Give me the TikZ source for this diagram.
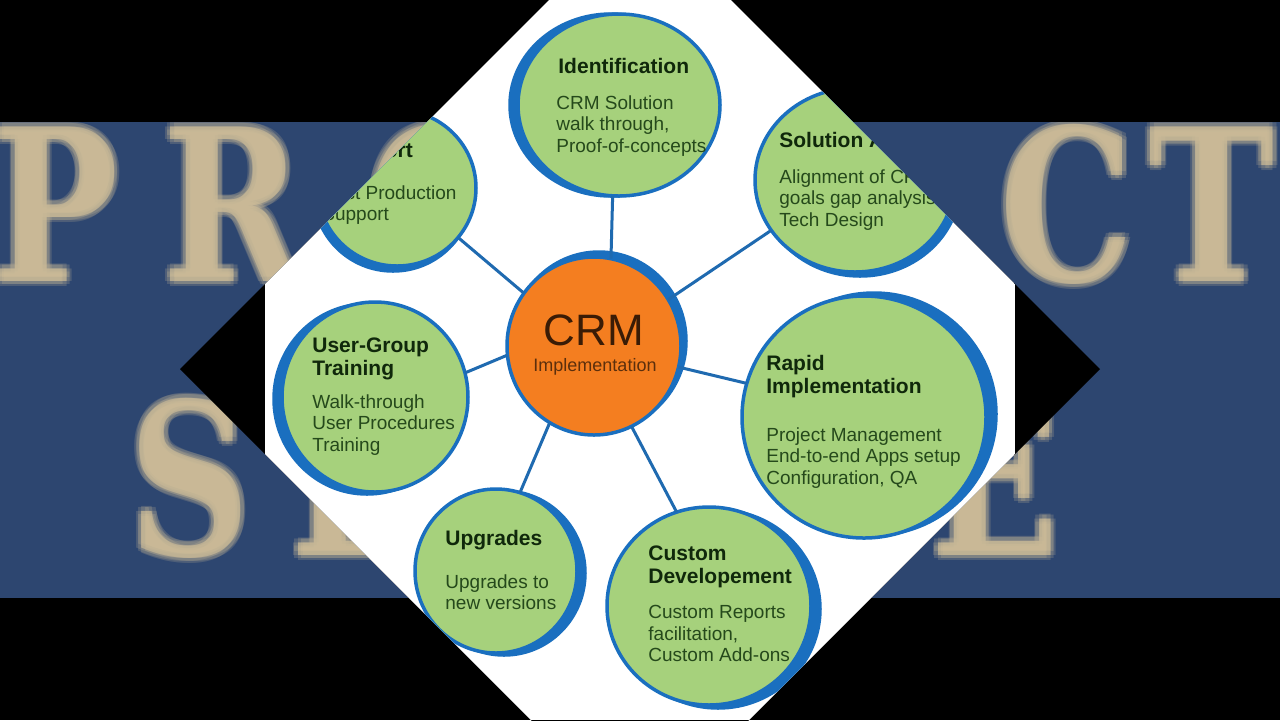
\documentclass[tikz,border=0pt]{standalone}
\usepackage{fontspec}
\setmainfont{Liberation Sans}
\newfontfamily\bgfont{DejaVu Serif}[FakeStretch=0.8]
\usetikzlibrary{shapes.geometric}
\definecolor{bandblue}{HTML}{2D4670}
\definecolor{beige}{HTML}{D5C29A}
\definecolor{leaf}{HTML}{A6D17C}
\definecolor{ring}{HTML}{1A6FBF}
\definecolor{linkblue}{HTML}{1F6AB0}
\definecolor{crmorange}{HTML}{F47E20}
\definecolor{headtxt}{HTML}{10280B}
\definecolor{bodytxt}{HTML}{25491B}
\definecolor{crmtxt}{HTML}{3A1C06}
\definecolor{imptxt}{HTML}{5C2F0C}
\newcommand\blurletter[4]{%
  \foreach \dx/\dy [count=\k] in {-5/0,5/0,0/-5,0/5,-3.5/-3.5,3.5/3.5,-3.5/3.5,3.5/-3.5}{
    \node[bgl, opacity=0.2] (#1-\k) at (#2+\dx, #3+\dy) {#4};
  }
  \node[bgl, opacity=0.6] (#1) at (#2,#3) {#4};
}
\begin{document}
\begin{tikzpicture}[x=0.5pt,y=-0.5pt,
  bub/.style={ellipse, draw=ring, line width=1.75pt, fill=leaf, inner sep=0pt, outer sep=0pt},
  hub/.style={bub, fill=crmorange},
  head/.style={anchor=north west, inner sep=0pt, align=left, text=headtxt, font=\fontsize{10.5}{11.5}\selectfont\bfseries},
  body/.style={anchor=north west, inner sep=0pt, align=left, text=bodytxt, font=\fontsize{9.5}{10.75}\selectfont},
  link/.style={draw=linkblue, line width=1.5pt},
  bgl/.style={inner sep=0pt, text=beige, font=\bgfont\fontsize{106}{110}\selectfont\bfseries}
]
\useasboundingbox (0,0) rectangle (1280,720);
\fill[black] (0,0) rectangle (1280,720);
\fill[bandblue] (0,122) rectangle (1280,598);
\begin{scope}
  \clip (0,122) rectangle (1280,598);
  \blurletter{lP}{55}{204}{P}
  \blurletter{lR}{233}{204}{R}
  \blurletter{lO}{440}{204}{O}
  \blurletter{lC}{1067}{204}{C}
  \blurletter{lT}{1212}{204}{T}
  \blurletter{lS}{190}{478}{S}
  \blurletter{lE}{355}{478}{E}
  \blurletter{lF}{995}{478}{E}
\end{scope}
% diamond
\fill[black] (640,-91) -- (1100,369) -- (640,829) -- (180,369) -- cycle;
\begin{scope}
  \clip (640,-91) -- (1100,369) -- (640,829) -- (180,369) -- cycle;
  \fill[white] (265,0) rectangle (1015,720);
  % shadows
  \fill[ring] (611,105) ellipse [x radius=102.75, y radius=92.75];
  \fill[ring] (860,184) ellipse [x radius=101.75, y radius=93.75];
  \fill[ring] (393,193) ellipse [x radius=80.75, y radius=79.75];
  \fill[ring] (367,399) ellipse [x radius=94.75, y radius=96.75];
  \fill[ring] (874,414) ellipse [x radius=123.75, y radius=122.75];
  \fill[ring] (504,573) ellipse [x radius=82.75, y radius=83.75];
  \fill[ring] (718,609) ellipse [x radius=103.75, y radius=100.75];
  \fill[ring] (599,341) ellipse [x radius=88.75, y radius=90.75];
  % bubbles
  \node[bub, minimum width=101pt, minimum height=91pt] (ident) at (619,105) {};
  \node[bub, minimum width=100pt, minimum height=92pt] (sol) at (855,180) {};
  \node[bub, minimum width=79pt, minimum height=78pt] (sup) at (397,188) {};
  \node[bub, minimum width=93pt, minimum height=95pt] (ug) at (375,397) {};
  \node[bub, minimum width=122pt, minimum height=121pt] (rap) at (864,417) {};
  \node[bub, minimum width=81pt, minimum height=82pt] (upg) at (496,571) {};
  \node[bub, minimum width=102pt, minimum height=99pt] (cust) at (709,606) {};
  \node[hub, minimum width=87pt, minimum height=89pt] (crm) at (594,346) {};
  % links
  \draw[link] (crm.79) -- (ident.266);
  \draw[link] (crm.32) -- (sol.211);
  \draw[link] (crm.143) -- (sup.321);
  \draw[link] (crm.186) -- (ug.15);
  \draw[link] (crm.346) -- (rap.164);
  \draw[link] (crm.240) -- (upg.73);
  \draw[link] (crm.295) -- (cust.109);
  % texts
  \node[anchor=base, inner sep=0pt, text=crmtxt, font=\fontsize{22}{22}\selectfont] (crmT) at (594,345) {CRM};
  \node[anchor=base, inner sep=0pt, text=imptxt, font=\fontsize{9}{9}\selectfont] (crmI) at (595,371) {Implementation};
  \node[head] (identH) at (558,58) {Identification};
  \node[body] (identB) at (556,95) {CRM Solution\\walk through,\\Proof-of-concepts};
  \node[head] (solH) at (779,132) {Solution Architecture};
  \node[body] (solB) at (779,169) {Alignment of CRM\\goals gap analysis\\Tech Design};
  \node[head] (supH) at (332,142) {Support};
  \node[body] (supB) at (322,185) {Post Production\\Support};
  \node[head] (ugH) at (312,337) {User-Group\\Training};
  \node[body] (ugB) at (312,394) {Walk-through\\User Procedures\\Training};
  \node[head] (rapH) at (766,355) {Rapid\\Implementation};
  \node[body] (rapB) at (766,427) {Project Management\\End-to-end Apps setup\\Configuration, QA};
  \node[head] (upgH) at (445,530) {Upgrades};
  \node[body] (upgB) at (445,574) {Upgrades to\\new versions};
  \node[head] (custH) at (648,545) {Custom\\Developement};
  \node[body] (custB) at (648,605) {Custom Reports\\facilitation,\\Custom Add-ons};
\end{scope}
\end{tikzpicture}
\end{document}
